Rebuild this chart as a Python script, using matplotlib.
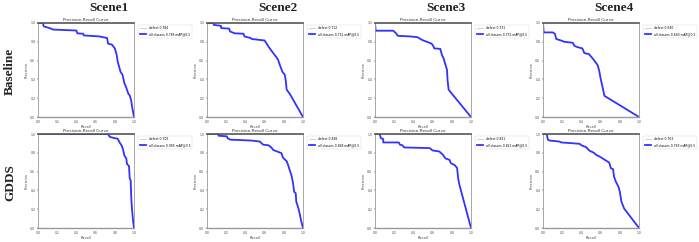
import matplotlib
matplotlib.use("Agg")
import matplotlib.pyplot as plt

# recall / precision pontos (linha = modelo, coluna = cena)
scenes = ["Scene1", "Scene2", "Scene3", "Scene4"]
rows = ["Baseline", "GDDS"]

base_s1_r = [0.0, 0.05, 0.06, 0.12, 0.16, 0.40, 0.41, 0.47, 0.476, 0.64, 0.72, 0.73, 0.77, 0.80, 0.82, 0.83, 0.86, 0.88, 0.90, 0.92, 0.94, 0.955, 0.97, 0.98, 1.0]
base_s1_p = [1.0, 1.0, 0.964, 0.946, 0.93, 0.92, 0.89, 0.886, 0.868, 0.857, 0.84, 0.78, 0.77, 0.73, 0.66, 0.59, 0.48, 0.45, 0.36, 0.31, 0.25, 0.23, 0.18, 0.11, 0.0]

base_s2_r = [0.0, 0.07, 0.07, 0.145, 0.148, 0.23, 0.24, 0.29, 0.38, 0.39, 0.455, 0.466, 0.60, 0.64, 0.67, 0.72, 0.74, 0.76, 0.786, 0.81, 0.82, 0.83, 0.86, 1.0]
base_s2_p = [1.0, 1.0, 0.98, 0.97, 0.946, 0.94, 0.91, 0.89, 0.886, 0.857, 0.84, 0.83, 0.814, 0.75, 0.707, 0.64, 0.61, 0.55, 0.48, 0.45, 0.39, 0.29, 0.25, 0.0]

base_s3_r = [0.0, 0.007, 0.19, 0.22, 0.237, 0.366, 0.44, 0.49, 0.54, 0.59, 0.61, 0.617, 0.68, 0.697, 0.714, 0.73, 0.75, 0.756, 0.767, 1.0]
base_s3_p = [1.0, 0.918, 0.918, 0.89, 0.864, 0.857, 0.85, 0.82, 0.80, 0.78, 0.75, 0.73, 0.725, 0.66, 0.625, 0.57, 0.50, 0.39, 0.29, 0.0]

base_s4_r = [0.0, 0.007, 0.10, 0.124, 0.138, 0.20, 0.22, 0.31, 0.327, 0.36, 0.41, 0.43, 0.48, 0.53, 0.57, 0.586, 0.60, 0.62, 0.64, 1.0]
base_s4_p = [1.0, 0.90, 0.90, 0.886, 0.83, 0.81, 0.80, 0.79, 0.757, 0.743, 0.73, 0.68, 0.668, 0.607, 0.55, 0.49, 0.41, 0.32, 0.225, 0.0]

gdds_s1_r = [0.0, 0.73, 0.747, 0.80, 0.83, 0.85, 0.87, 0.885, 0.90, 0.92, 0.927, 0.948, 0.955, 0.965, 0.972, 0.98, 0.99, 1.0]
gdds_s1_p = [1.0, 1.0, 0.97, 0.955, 0.95, 0.91, 0.88, 0.84, 0.77, 0.74, 0.68, 0.66, 0.53, 0.51, 0.31, 0.19, 0.08, 0.0]

gdds_s2_r = [0.0, 0.12, 0.12, 0.207, 0.214, 0.24, 0.466, 0.55, 0.57, 0.586, 0.64, 0.67, 0.69, 0.74, 0.776, 0.79, 0.83, 0.845, 0.86, 0.88, 0.897, 0.907, 0.924, 0.93, 0.948, 0.966, 0.98, 1.0]
gdds_s2_p = [1.0, 1.0, 0.982, 0.975, 0.957, 0.94, 0.93, 0.92, 0.90, 0.886, 0.88, 0.857, 0.83, 0.81, 0.796, 0.75, 0.71, 0.67, 0.62, 0.56, 0.475, 0.386, 0.37, 0.28, 0.225, 0.15, 0.08, 0.0]

gdds_s3_r = [0.0, 0.05, 0.06, 0.086, 0.086, 0.248, 0.26, 0.286, 0.303, 0.57, 0.60, 0.67, 0.707, 0.734, 0.776, 0.79, 0.828, 0.855, 0.866, 0.88, 1.0]
gdds_s3_p = [1.0, 1.0, 0.957, 0.946, 0.91, 0.91, 0.886, 0.88, 0.857, 0.85, 0.825, 0.814, 0.78, 0.74, 0.725, 0.69, 0.67, 0.64, 0.53, 0.457, 0.0]

gdds_s4_r = [0.0, 0.04, 0.05, 0.07, 0.17, 0.19, 0.276, 0.38, 0.40, 0.45, 0.48, 0.53, 0.55, 0.59, 0.655, 0.69, 0.707, 0.73, 0.74, 0.76, 0.786, 0.80, 0.817, 0.845, 1.0]
gdds_s4_p = [1.0, 1.0, 0.94, 0.93, 0.92, 0.91, 0.904, 0.896, 0.88, 0.86, 0.825, 0.80, 0.78, 0.76, 0.718, 0.696, 0.636, 0.625, 0.546, 0.49, 0.44, 0.386, 0.28, 0.207, 0.0]

# mAP@0.5 (estimado, texto ilegível na imagem)
ap_base = [0.784, 0.712, 0.731, 0.640]
ap_gdds = [0.905, 0.828, 0.821, 0.763]

curvas = [
    [(base_s1_r, base_s1_p), (base_s2_r, base_s2_p), (base_s3_r, base_s3_p), (base_s4_r, base_s4_p)],
    [(gdds_s1_r, gdds_s1_p), (gdds_s2_r, gdds_s2_p), (gdds_s3_r, gdds_s3_p), (gdds_s4_r, gdds_s4_p)],
]
aps = [ap_base, ap_gdds]

W, H = 699, 242
fig = plt.figure(figsize=(W / 100, H / 100), dpi=100)

lefts = [38, 207, 375, 543]
tops = [23, 134]
aw, ah = 96, 94

for i in range(2):
    for j in range(4):
        ax = fig.add_axes([lefts[j] / W, 1 - (tops[i] + ah) / H, aw / W, ah / H])
        r, p = curvas[i][j]
        ax.plot(r, p, color="#9ec5f0", linewidth=0.5, label=f"defect {aps[i][j]:.3f}")
        ax.plot(r, p, color="#3333ff", linewidth=1.3, label=f"all classes {aps[i][j]:.3f} mAP@0.5")
        ax.set_xlim(0, 1)
        ax.set_ylim(0, 1)
        ax.set_xticks([0, 0.2, 0.4, 0.6, 0.8, 1.0])
        ax.set_yticks([0, 0.2, 0.4, 0.6, 0.8, 1.0])
        ax.tick_params(labelsize=2.2, length=1, width=0.3, pad=1, labelcolor="#444444")
        ax.set_xlabel("Recall", fontsize=2.5, labelpad=1, color="#444444")
        ax.set_ylabel("Precision", fontsize=2.5, labelpad=1, color="#444444")
        ax.set_title("Precision-Recall Curve", fontsize=3, pad=1.5, color="#333333")
        for s in ax.spines.values():
            s.set_color("#999999")
            s.set_linewidth(0.6)
        ax.spines["top"].set_color("#555555")
        ax.spines["top"].set_linewidth(1.2)
        ax.spines["bottom"].set_linewidth(1.0)
        leg = ax.legend(bbox_to_anchor=(1.03, 1.0), loc="upper left", fontsize=2.2,
                        handlelength=2, borderpad=0.6, labelspacing=0.6, fancybox=False)
        leg.get_frame().set_linewidth(0.3)
        leg.get_frame().set_edgecolor("#cccccc")

tfont = dict(family="Liberation Serif", fontweight="bold", fontsize=9.5, color="#222222")
for j, nome in enumerate(scenes):
    fig.text((lefts[j] + aw / 2 + 23) / W, 1 - 8 / H, nome, ha="center", va="center", **tfont)
row_y = [71, 183]
for i, nome in enumerate(rows):
    fig.text(10 / W, 1 - row_y[i] / H, nome, ha="center", va="center", rotation=90, **tfont)

fig.savefig("out.png", dpi=100)
